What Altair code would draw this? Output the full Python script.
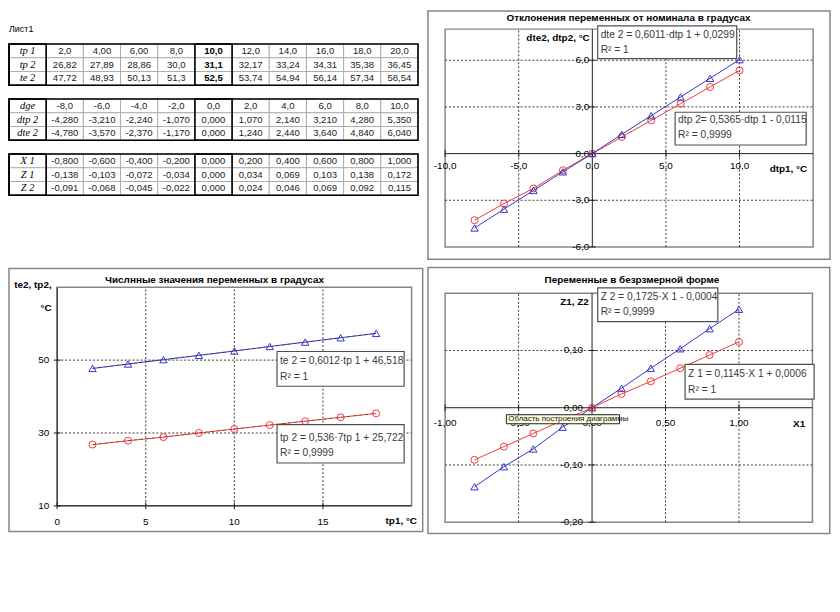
import altair as alt
import pandas as pd

# ------------------------------------------------------------------ data (as shown on the sheet)
sheet_name = "Лист1"

lab_t1 = ["tp 1", "tp 2", "te 2"]
tp1 = ["2,0", "4,00", "6,00", "8,0", "10,0", "12,0", "14,0", "16,0", "18,0", "20,0"]
tp2 = ["26,82", "27,89", "28,86", "30,0", "31,1", "32,17", "33,24", "34,31", "35,38", "36,45"]
te2 = ["47,72", "48,93", "50,13", "51,3", "52,5", "53,74", "54,94", "56,14", "57,34", "58,54"]

lab_t2 = ["dge", "dtp 2", "dte 2"]
dge = ["-8,0", "-6,0", "-4,0", "-2,0", "0,0", "2,0", "4,0", "6,0", "8,0", "10,0"]
dtp2 = ["-4,280", "-3,210", "-2,240", "-1,070", "0,000", "1,070", "2,140", "3,210", "4,280", "5,350"]
dte2 = ["-4,780", "-3,570", "-2,370", "-1,170", "0,000", "1,240", "2,440", "3,640", "4,840", "6,040"]

lab_t3 = ["X 1", "Z 1", "Z 2"]
X1 = ["-0,800", "-0,600", "-0,400", "-0,200", "0,000", "0,200", "0,400", "0,600", "0,800", "1,000"]
Z1 = ["-0,138", "-0,103", "-0,072", "-0,034", "0,000", "0,034", "0,069", "0,103", "0,138", "0,172"]
Z2 = ["-0,091", "-0,068", "-0,045", "-0,022", "0,000", "0,024", "0,046", "0,069", "0,092", "0,115"]

bold_column = 4          # the framed "10,0" column
c2_points = 9            # chart 2 shows tp1 = 2 .. 18

titles = ["Отклонения переменных от номинала в градусах",
          "Числнные значения переменных в градусах",
          "Переменные в безрзмерной форме"]

c1_eq = [["dte 2 = 0,6011·dtp 1 + 0,0299", "R² = 1"],
         ["dtp 2= 0,5365·dtp 1 - 0,0115", "R² = 0,9999"]]
c2_eq = [["te 2 = 0,6012·tp 1 + 46,518", "R² = 1"],
         ["tp 2 = 0,536·7tp 1 + 25,722", "R² = 0,9999"]]
c3_eq = [["Z 2 = 0,1725·X 1 - 0,0004", "R² = 0,9999"],
         ["Z 1 = 0,1145·X 1 + 0,0006", "R² = 1"]]

c1_xt = [-10, -5, 0, 5, 10]
c1_xtt = ["-10,0", "-5,0", "0,0", "5,0", "10,0"]
c1_yt = [-6, -3, 0, 3, 6]
c1_ytt = ["-6,0", "-3,0", "0,0", "3,0", "6,0"]

c2_xt = [0, 5, 10, 15]
c2_xtt = ["0", "5", "10", "15"]
c2_yt = [10, 30, 50]
c2_ytt = ["10", "30", "50"]

c3_xt = [-1, -0.5, 0, 0.5, 1]
c3_xtt = ["-1,00", "-0,50", "0,00", "0,50", "1,00"]
c3_yt = [-0.2, -0.1, 0, 0.1]
c3_ytt = ["-0,20", "-0,10", "0,00", "0,10"]

tooltip_text = "Область построения диаграммы"


def num(a):
    return [float(s.replace(",", ".")) for s in a]


# ------------------------------------------------------------------ layout helpers
OX, OY = 8, 8
W, H = 830, 545
FONT = "Liberation Sans"
AX = "#1e1e1e"
GRID = "#3a3a3a"
FRAME = "#858585"
RED = "#ee3b3b"
BLUE = "#3535c8"
EQC = "#3a3a3a"


def px(x):
    return x - OX


def py(y):
    return y - OY


def xscale(d0, d1, p0, p1):
    p0, p1 = px(p0), px(p1)
    k = (d1 - d0) / (p1 - p0)
    return alt.Scale(domain=[d0 - p0 * k, d0 + (W - p0) * k], nice=False, zero=False)


def yscale(d0, d1, p0, p1):
    p0, p1 = py(p0), py(p1)
    k = (d1 - d0) / (p0 - p1)
    lo = d0 - (H - p0) * k
    return alt.Scale(domain=[lo, lo + H * k], nice=False, zero=False)


ONE = pd.DataFrame({"a": [0]})


def box(x0, y0, x1, y1, stroke=FRAME, sw=1.5, fill="white"):
    return alt.Chart(ONE).mark_rect(fill=fill, stroke=stroke, strokeWidth=sw).encode(
        x=alt.value(px(x0)), x2=alt.value(px(x1)), y=alt.value(py(y0)), y2=alt.value(py(y1)))


def label(txt, x, y, align="left", size=10.0, weight="normal", style="normal", color="black", font=FONT):
    return alt.Chart(pd.DataFrame({"t": [txt]})).mark_text(
        align=align, baseline="middle", fontSize=size, fontWeight=weight, fontStyle=style,
        color=color, font=font).encode(x=alt.value(px(x)), y=alt.value(py(y)), text="t:N")


def eq_box(lines, x0, y0, x1, y1, ty0, ty1):
    return [box(x0, y0, x1, y1, stroke="#505050", sw=1.2),
            label(lines[0], x0 + 3, ty0, size=10.3, color=EQC),
            label(lines[1], x0 + 3, ty1, size=10.3, color=EQC)]


def plot_panel(xs, ys, xlim, ylim, xgrid, ygrid, xaxis_y, yaxis_x,
               xt, xtt, yt, ytt, xdy, ydx, series, trend=False):
    def X(f):
        return alt.X(f, type="quantitative", scale=xs, axis=None)

    def Y(f):
        return alt.Y(f, type="quantitative", scale=ys, axis=None)

    L = []
    L.append(alt.Chart(pd.DataFrame({"x0": [xlim[0]], "x1": [xlim[1]], "y0": [ylim[0]], "y1": [ylim[1]]}))
             .mark_rect(fill="white", stroke=FRAME, strokeWidth=1.5)
             .encode(x=X("x0"), x2="x1", y=Y("y0"), y2="y1"))
    L.append(alt.Chart(pd.DataFrame({"g": xgrid, "y0": ylim[0], "y1": ylim[1]}))
             .mark_rule(color=GRID, strokeDash=[2, 2], strokeWidth=1)
             .encode(x=X("g"), y=Y("y0"), y2="y1"))
    L.append(alt.Chart(pd.DataFrame({"g": ygrid, "x0": xlim[0], "x1": xlim[1]}))
             .mark_rule(color=GRID, strokeDash=[2, 2], strokeWidth=1)
             .encode(y=Y("g"), x=X("x0"), x2="x1"))
    L.append(alt.Chart(pd.DataFrame({"a": [yaxis_x], "y0": [ylim[0]], "y1": [ylim[1]]}))
             .mark_rule(color=AX, strokeWidth=1).encode(x=X("a"), y=Y("y0"), y2="y1"))
    L.append(alt.Chart(pd.DataFrame({"a": [xaxis_y], "x0": [xlim[0]], "x1": [xlim[1]]}))
             .mark_rule(color=AX, strokeWidth=1).encode(y=Y("a"), x=X("x0"), x2="x1"))
    L.append(alt.Chart(pd.DataFrame({"v": yt, "a": yaxis_x}))
             .mark_tick(orient="horizontal", size=7, thickness=1, color=AX, opacity=1)
             .encode(x=X("a"), y=Y("v")))
    L.append(alt.Chart(pd.DataFrame({"v": xt, "a": xaxis_y}))
             .mark_tick(orient="vertical", size=7, thickness=1, color=AX, opacity=1)
             .encode(x=X("v"), y=Y("a")))
    L.append(alt.Chart(pd.DataFrame({"v": xt, "a": xaxis_y, "t": xtt}))
             .mark_text(font=FONT, fontSize=10, dy=xdy, baseline="middle", align="center", color="black")
             .encode(x=X("v"), y=Y("a"), text="t:N"))
    L.append(alt.Chart(pd.DataFrame({"v": yt, "a": yaxis_x, "t": ytt}))
             .mark_text(font=FONT, fontSize=10, dx=ydx, baseline="middle", align="right", color="black")
             .encode(x=X("a"), y=Y("v"), text="t:N"))
    for xv, yv, color, shape, size in series:
        df = pd.DataFrame({"x": xv, "y": yv})
        L.append(alt.Chart(df).mark_line(color=color, strokeWidth=1).encode(x=X("x"), y=Y("y")))
        if trend:
            L.append(alt.Chart(df).transform_regression("x", "y")
                     .mark_line(color="#202020", strokeDash=[3, 3], strokeWidth=1, opacity=0.45)
                     .encode(x=X("x"), y=Y("y")))
        L.append(alt.Chart(df).mark_point(shape=shape, filled=False, color=color, size=size,
                                          strokeWidth=1, opacity=1)
                 .encode(x=X("x"), y=Y("y")))
    return alt.layer(*L)


# ------------------------------------------------------------------ tables
ROW0, ROWH = 42.3, 13.85
txs = xscale(0, 11, 9, 421)
tys = yscale(-11, 0, ROW0 + ROWH * 11, ROW0)

cells = []
boxes = []
tables = [(lab_t1, [tp1, tp2, te2]), (lab_t2, [dge, dtp2, dte2]), (lab_t3, [X1, Z1, Z2])]
for k, (labs, rows) in enumerate(tables):
    r_top = 4 * k
    for j, (lab, vals) in enumerate(zip(labs, rows)):
        r = r_top + j
        cells.append({"c0": 0, "c1": 1, "r0": -r, "r1": -(r + 1), "cx": 0.5, "ry": -(r + 0.5),
                      "t": lab, "kind": "label"})
        for c, v in enumerate(vals):
            kind = "bold" if (k == 0 and c == bold_column) else "value"
            cells.append({"c0": c + 1, "c1": c + 2, "r0": -r, "r1": -(r + 1), "cx": c + 1.5,
                          "ry": -(r + 0.5), "t": v, "kind": kind})
    for a, b in [(0, 11), (0, 1), (bold_column + 1, bold_column + 2)]:
        boxes.append({"c0": a, "c1": b, "r0": -r_top, "r1": -(r_top + 3)})
cells = pd.DataFrame(cells)
boxes = pd.DataFrame(boxes)


def TX(f):
    return alt.X(f, type="quantitative", scale=txs, axis=None)


def TY(f):
    return alt.Y(f, type="quantitative", scale=tys, axis=None)


table_panel = alt.layer(
    alt.Chart(cells).mark_rect(fill="white", stroke="#a0a0a0", strokeWidth=0.8)
    .encode(x=TX("c0"), x2="c1", y=TY("r0"), y2="r1"),
    alt.Chart(cells).transform_filter("datum.kind == 'value'")
    .mark_text(font=FONT, fontSize=9.6, align="center", baseline="middle", color="#222")
    .encode(x=TX("cx"), y=TY("ry"), text="t:N"),
    alt.Chart(cells).transform_filter("datum.kind == 'bold'")
    .mark_text(font=FONT, fontSize=9.6, fontWeight="bold", align="center", baseline="middle", color="black")
    .encode(x=TX("cx"), y=TY("ry"), text="t:N"),
    alt.Chart(cells).transform_filter("datum.kind == 'label'")
    .mark_text(font="Liberation Serif", fontSize=10.5, fontStyle="italic", align="center",
               baseline="middle", color="black")
    .encode(x=TX("cx"), y=TY("ry"), text="t:N"),
    alt.Chart(boxes).mark_rect(fillOpacity=0, stroke="black", strokeWidth=1.6)
    .encode(x=TX("c0"), x2="c1", y=TY("r0"), y2="r1"),
)

# ------------------------------------------------------------------ chart 1
c1 = plot_panel(xscale(-10, 15, 448.3, 819), yscale(-6, 8, 246.7, 27.3),
                [-10, 15], [-6, 8], [-5, 5, 10], [-3, 3, 6], 0, 0,
                c1_xt, c1_xtt, c1_yt, c1_ytt, 13, -3,
                [(num(dge), num(dtp2), RED, "circle", 50),
                 (num(dge), num(dte2), BLUE, "triangle-up", 55)])

# ------------------------------------------------------------------ chart 2
c2 = plot_panel(xscale(0, 20, 57.5, 414.5), yscale(10, 70, 507.5, 287.3),
                [0, 20], [10, 70], [5, 10, 15], [30, 50], 10, 0,
                c2_xt, c2_xtt, c2_yt, c2_ytt, 16, -8,
                [(num(tp1)[:c2_points], num(te2)[:c2_points], BLUE, "triangle-up", 55),
                 (num(tp1)[:c2_points], num(tp2)[:c2_points], RED, "circle", 50)],
                trend=True)

# ------------------------------------------------------------------ chart 3
c3 = plot_panel(xscale(-1, 1.5, 448.3, 818.3), yscale(-0.2, 0.2, 524, 293.3),
                [-1, 1.5], [-0.2, 0.2], [-0.5, 0.5, 1.0], [-0.1, 0.1], 0, 0,
                c3_xt, c3_xtt, c3_yt, c3_ytt, 15, -9,
                [(num(X1), num(Z1), BLUE, "triangle-up", 55),
                 (num(X1), num(Z2), RED, "circle", 50)])

# ------------------------------------------------------------------ decorations
frames = [box(431, 9, 836, 259), box(9, 268.3, 425.7, 533.3), box(431, 267.3, 835.7, 535.3)]

notes = [label(sheet_name, 9, 27, size=9)]
notes += [label(titles[0], 633, 16.5, align="center", weight="bold"),
          label(titles[1], 216, 280, align="center", weight="bold"),
          label(titles[2], 636.5, 280, align="center", weight="bold")]
notes += [label("dte2, dtp2, °C", 594, 36.7, align="right", weight="bold"),
          label("dtp1, °C", 813, 168, align="right", weight="bold"),
          label("te2, tp2,", 52, 285, align="right", weight="bold"),
          label("°C", 52, 308.3, align="right", weight="bold"),
          label("tp1, °C", 420, 523, align="right", weight="bold"),
          label("Z1, Z2", 593, 301.7, align="right", weight="bold"),
          label("X1", 811, 425, align="right", weight="bold")]
notes += eq_box(c1_eq[0], 602, 24, 742, 57, 33, 48)
notes += eq_box(c1_eq[1], 680, 111, 812, 144, 119, 134)
notes += eq_box(c2_eq[0], 279, 352, 407, 387, 361.7, 377.7)
notes += eq_box(c2_eq[1], 279, 425.7, 407, 464.3, 439, 454)
notes += eq_box(c3_eq[0], 602, 288, 723, 322, 297.3, 312.7)
notes += eq_box(c3_eq[1], 690, 365, 820, 400, 374.3, 391)
notes += [box(510, 415.7, 624, 424.8, stroke="#222", sw=1, fill="#ffffe1"),
          label(tooltip_text, 512, 420.3, size=8, color="#111")]

chart = alt.layer(*frames, table_panel, c1, c2, c3, *notes).resolve_scale(
    x="independent", y="independent"
).properties(
    width=W, height=H, padding=0, background="white",
    autosize=alt.AutoSizeParams(type="none"),
).configure_view(stroke=None)

chart.save("out.html", embed_options={"renderer": "svg", "actions": False})
